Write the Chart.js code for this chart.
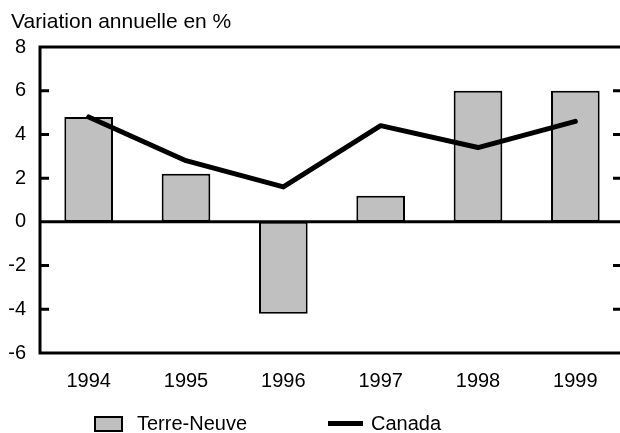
<!DOCTYPE html>
<html>
<head>
<meta charset="utf-8">
<script src="https://cdn.jsdelivr.net/npm/chart.js@4.4.0/dist/chart.umd.min.js"></script>
<style>
  body { margin: 0; background: #fff; }
  #wrap { position: relative; width: 620px; height: 433px; overflow: hidden; font-family: Arial, "Liberation Sans", sans-serif; color: #000; }
  #chart { position: absolute; left: 0; top: 0; }
  .title { position: absolute; left: 11px; top: 10px; font-size: 21px; line-height: 21px; white-space: nowrap; }
  .leg-box { position: absolute; left: 94px; top: 416px; width: 29px; height: 16px; box-sizing: border-box; border: 2px solid #000; background: #c0c0c0; }
  .leg-line { position: absolute; left: 328px; top: 421px; width: 35px; height: 5px; background: #000; }
  .leg-text { position: absolute; top: 413px; font-size: 20px; line-height: 20px; white-space: nowrap; }
</style>
</head>
<body>
<div id="wrap">
  <canvas id="chart" width="628" height="433"></canvas>
  <div class="title">Variation annuelle en %</div>
  <div class="leg-box"></div>
  <div class="leg-text" style="left:137px">Terre-Neuve</div>
  <div class="leg-line"></div>
  <div class="leg-text" style="left:371px">Canada</div>
</div>
<script>
// data
const years = ['1994', '1995', '1996', '1997', '1998', '1999'];
const terreNeuve = [4.8, 2.2, -4.2, 1.2, 6.0, 6.0];
const canada = [4.8, 2.8, 1.6, 4.4, 3.4, 4.6];
const yMin = -6;
const yMax = 8;
const yStep = 2;

const FONT = 'Arial, "Liberation Sans", sans-serif';

// frame, zero line and the short inward ticks on both sides
const framePlugin = {
  id: 'frame',
  afterDatasetsDraw(chart) {
    const { ctx, chartArea } = chart;
    const y = chart.scales.y;
    ctx.save();
    ctx.strokeStyle = '#000';
    ctx.lineWidth = 3;
    ctx.strokeRect(chartArea.left, chartArea.top, chartArea.right - chartArea.left, chartArea.bottom - chartArea.top);

    const zero = y.getPixelForValue(0);
    ctx.beginPath();
    ctx.moveTo(chartArea.left, zero);
    ctx.lineTo(chartArea.right, zero);
    ctx.stroke();

    y.ticks.forEach(t => {
      if (t.value === 0 || t.value === yMin || t.value === yMax) return;
      const py = y.getPixelForValue(t.value);
      ctx.beginPath();
      ctx.moveTo(chartArea.left, py);
      ctx.lineTo(chartArea.left + 9, py);
      ctx.moveTo(chartArea.right - 11, py);
      ctx.lineTo(chartArea.right, py);
      ctx.stroke();
    });
    ctx.restore();
  }
};

new Chart(document.getElementById('chart'), {
  type: 'bar',
  data: {
    labels: years,
    datasets: [
      {
        type: 'line',
        label: 'Canada',
        data: canada,
        borderColor: '#000',
        borderWidth: 5,
        borderJoinStyle: 'round',
        borderCapStyle: 'round',
        pointRadius: 0,
        tension: 0,
        fill: false,
        order: 0
      },
      {
        type: 'bar',
        label: 'Terre-Neuve',
        data: terreNeuve,
        backgroundColor: '#c0c0c0',
        borderColor: '#000',
        borderWidth: 2,
        borderSkipped: false,
        barPercentage: 0.5,
        categoryPercentage: 1,
        order: 1
      }
    ]
  },
  options: {
    responsive: false,
    animation: false,
    layout: { padding: { top: 47, right: 4, left: 0, bottom: 0 } },
    plugins: {
      legend: { display: false },
      tooltip: { enabled: false },
      title: { display: false }
    },
    scales: {
      x: {
        grid: { display: false },
        border: { display: false },
        ticks: { color: '#000', padding: 8, font: { family: FONT, size: 20 }, maxRotation: 0 },
        afterFit(scale) { scale.height = 80; }
      },
      y: {
        min: yMin,
        max: yMax,
        grid: { display: false },
        border: { display: false },
        ticks: { stepSize: yStep, color: '#000', padding: 6, font: { family: FONT, size: 20 } },
        afterFit(scale) { scale.width = 40; }
      }
    }
  },
  plugins: [framePlugin]
});
</script>
</body>
</html>
